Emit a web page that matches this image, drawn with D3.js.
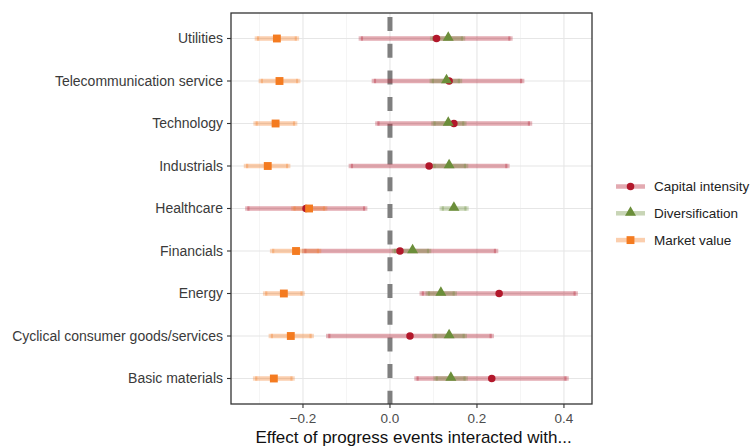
<!DOCTYPE html>
<html><head><meta charset="utf-8">
<script src="https://cdn.jsdelivr.net/npm/d3@7"></script>
<style>body{margin:0;background:#fff}svg{display:block;font-family:"Liberation Sans",Arial,sans-serif}</style>
</head><body><svg id="c" width="753" height="447"></svg>
<script>
const categories = ["Utilities","Telecommunication service","Technology","Industrials","Healthcare","Financials","Energy","Cyclical consumer goods/services","Basic materials"];
const seriesNames = ["Capital intensity","Diversification","Market value"];
// estimates, lower bound, upper bound per category (same order as categories)
const capEst = [0.107,0.136,0.147,0.090,-0.193,0.023,0.251,0.046,0.234];
const capLo  = [-0.067,-0.037,-0.029,-0.090,-0.328,-0.197,0.073,-0.142,0.061];
const capHi  = [0.277,0.304,0.322,0.270,-0.057,0.244,0.427,0.234,0.406];
const divEst = [0.134,0.130,0.134,0.136,0.147,0.052,0.117,0.136,0.140];
const divLo  = [0.097,0.096,0.100,0.100,0.119,0.009,0.087,0.102,0.105];
const divHi  = [0.168,0.161,0.171,0.175,0.176,0.090,0.149,0.172,0.174];
const mvEst  = [-0.260,-0.254,-0.263,-0.281,-0.186,-0.216,-0.244,-0.228,-0.267];
const mvLo   = [-0.306,-0.297,-0.309,-0.331,-0.222,-0.271,-0.287,-0.274,-0.310];
const mvHi   = [-0.214,-0.211,-0.218,-0.234,-0.149,-0.163,-0.201,-0.180,-0.224];
const xTicks = [-0.2,0.0,0.2,0.4];
const xMinor = [-0.3,-0.1,0.1,0.3];
const xTitle = "Effect of progress events interacted with...";

const colors = {"Capital intensity":"#b2182b","Diversification":"#6b8e3a","Market value":"#f47b20"};
const shapes = {"Capital intensity":d3.symbolCircle,"Diversification":d3.symbolTriangle,"Market value":d3.symbolSquare};
const sizes = {"Capital intensity":44,"Diversification":52,"Market value":62};

const series = [
  {name:seriesNames[0], est:capEst, lo:capLo, hi:capHi},
  {name:seriesNames[1], est:divEst, lo:divLo, hi:divHi},
  {name:seriesNames[2], est:mvEst, lo:mvLo, hi:mvHi}
];

const L=231, R=592, T=13, B=404;
const svg = d3.select("#c");
const x = d3.scaleLinear().domain([-0.3655,0.4645]).range([L,R]);
const y = d3.scalePoint().domain(categories).range([T,B]).padding(0.6);

const g = svg.append("g");
// grid
g.selectAll(".gm").data(xMinor).join("line").attr("x1",d=>x(d)).attr("x2",d=>x(d)).attr("y1",T).attr("y2",B).attr("stroke","#f2f2f2").attr("stroke-width",0.8);
g.selectAll(".gx").data(xTicks).join("line").attr("x1",d=>x(d)).attr("x2",d=>x(d)).attr("y1",T).attr("y2",B).attr("stroke","#e6e6e6").attr("stroke-width",1.1);
g.selectAll(".gy").data(categories).join("line").attr("x1",L).attr("x2",R).attr("y1",d=>y(d)).attr("y2",d=>y(d)).attr("stroke","#e6e6e6").attr("stroke-width",1.1);

// zero dashed line
g.append("line").attr("x1",x(0)).attr("x2",x(0)).attr("y1",T).attr("y2",B)
 .attr("stroke","#7f7f7f").attr("stroke-width",5).attr("stroke-dasharray","14,12.7").attr("stroke-dashoffset",22.7);

// ranges
series.forEach(s=>{
  const c = colors[s.name];
  const rows = categories.map((k,i)=>({k, lo:s.lo[i], hi:s.hi[i]}));
  g.append("g").selectAll("line").data(rows).join("line")
   .attr("x1",d=>x(d.lo)).attr("x2",d=>x(d.hi)).attr("y1",d=>y(d.k)).attr("y2",d=>y(d.k))
   .attr("stroke",c).attr("stroke-opacity",0.37).attr("stroke-width",4.5);
  const ends = rows.flatMap(d=>[{k:d.k,v:d.lo},{k:d.k,v:d.hi}]);
  g.append("g").selectAll("rect").data(ends).join("rect")
   .attr("x",d=>x(d.v)-2.2).attr("y",d=>y(d.k)-2.2).attr("width",4.4).attr("height",4.4)
   .attr("fill",c).attr("fill-opacity",0.3);
});
// points
series.forEach(s=>{
  const c = colors[s.name];
  const sym = d3.symbol().type(shapes[s.name]).size(sizes[s.name]);
  g.append("g").selectAll("path").data(categories.map((k,i)=>({k,v:s.est[i]}))).join("path")
   .attr("d",sym).attr("transform",d=>`translate(${x(d.v)},${y(d.k)+(s.name==="Diversification"?-0.8:0)})`)
   .attr("fill",c);
});

// panel border
svg.append("rect").attr("x",L).attr("y",T).attr("width",R-L).attr("height",B-T).attr("fill","none").attr("stroke","#333").attr("stroke-width",1.3);

// y axis
const ya = svg.append("g");
ya.selectAll("line").data(categories).join("line").attr("x1",L-4).attr("x2",L).attr("y1",d=>y(d)).attr("y2",d=>y(d)).attr("stroke","#333").attr("stroke-width",1.1);
ya.selectAll("text").data(categories).join("text").attr("x",L-8).attr("y",d=>y(d)).attr("dy","0.35em")
  .attr("text-anchor","end").attr("font-size",14).attr("fill","#3a3a3a").text(d=>d);

// x axis
const xa = svg.append("g");
xa.selectAll("line").data(xTicks).join("line").attr("x1",d=>x(d)).attr("x2",d=>x(d)).attr("y1",B).attr("y2",B+4).attr("stroke","#333").attr("stroke-width",1.1);
xa.selectAll("text").data(xTicks).join("text").attr("x",d=>x(d)).attr("y",B+19)
  .attr("text-anchor","middle").attr("font-size",13.5).attr("fill","#4d4d4d").text(d=>d3.format(".1f")(d).replace("-","\u2212"));
svg.append("text").attr("x",(L+R)/2+2).attr("y",B+39).attr("text-anchor","middle").attr("font-size",17).attr("fill","#111").text(xTitle);

// legend
const lg = svg.append("g");
seriesNames.forEach((n,i)=>{
  const yy = 186.5 + i*26.8;
  const c = colors[n];
  lg.append("line").attr("x1",616).attr("x2",645).attr("y1",yy).attr("y2",yy).attr("stroke",c).attr("stroke-opacity",0.37).attr("stroke-width",4.5);
  lg.append("path").attr("d",d3.symbol().type(shapes[n]).size(sizes[n])()).attr("transform",`translate(630.5,${yy+(n==="Diversification"?-0.8:0)})`).attr("fill",c);
  lg.append("text").attr("x",654).attr("y",yy).attr("dy","0.35em").attr("font-size",13.5).attr("fill","#222").text(n);
});
</script></body></html>
